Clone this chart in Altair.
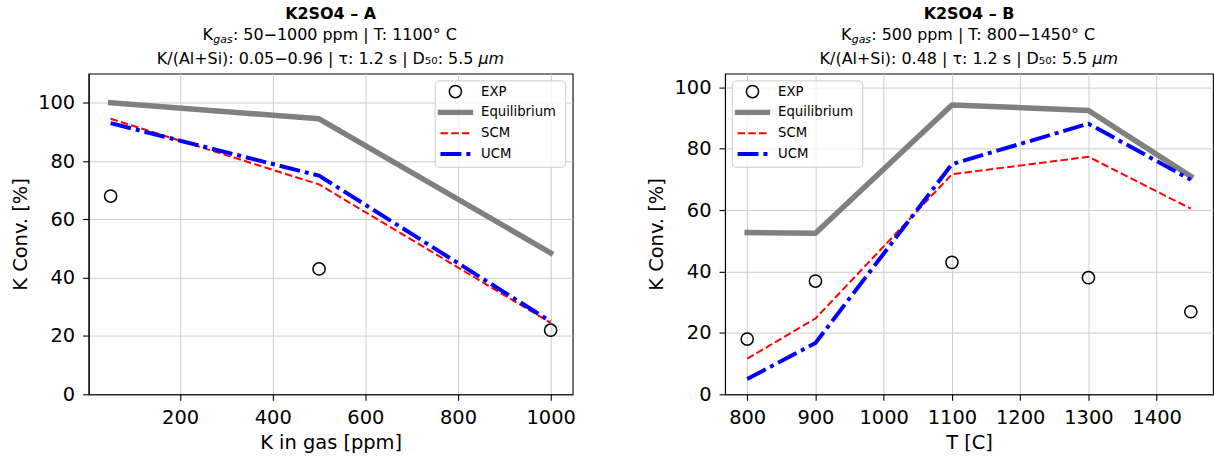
import altair as alt
import pandas as pd

FONT = "DejaVu Sans"

# ---------------- data ----------------
SERIES = ["EXP", "Equilibrium", "SCM", "UCM"]
Y_TICKS = [0, 20, 40, 60, 80, 100]

A_X = [50, 500, 1000]
A_EXP = [68, 43, 22]
A_EQ = [100, 94.5, 48.5]
A_SCM = [94.5, 72, 24.5]
A_UCM = [93, 75, 25]
A_XTICKS = [200, 400, 600, 800, 1000]

B_X = [800, 900, 1100, 1300, 1450]
B_EXP = [18, 36.9, 43, 38, 26.9]
B_EQ = [52.7, 52.5, 94.3, 92.5, 71]
B_SCM = [11.6, 24.7, 71.7, 77.4, 60.5]
B_UCM = [5, 16.7, 75, 88.2, 69.9]
B_XTICKS = [800, 900, 1000, 1100, 1200, 1300, 1400]

TITLE_A = "K2SO4 – A"
SUB2_A = ": 50−1000 ppm | T: 1100° C"
SUB3_A = "K/(Al+Si): 0.05−0.96 | τ: 1.2 s | D₅₀: 5.5"
TITLE_B = "K2SO4 – B"
SUB2_B = ": 500 ppm | T: 800−1450° C"
SUB3_B = "K/(Al+Si): 0.48 | τ: 1.2 s | D₅₀: 5.5"

# ---------------- styles ----------------
STYLE = {
    "EXP": dict(color="black", strokeWidth=1.5),
    "Equilibrium": dict(color="#808080", strokeWidth=5.5, strokeCap="square", strokeJoin="round"),
    "SCM": dict(color="#ff0000", strokeWidth=2, strokeDash=[7.5, 3.3], strokeJoin="round"),
    "UCM": dict(color="#0000ff", strokeWidth=4, strokeDash=[21, 5, 4, 5], strokeJoin="round"),
}

# approximate DejaVu Sans advance widths (em) for centring composite title lines
W_EM = {" ": .318, ":": .337, "−": .838, "p": .635, "m": .974, "|": .337, "T": .611, "°": .5,
        "C": .698, "K": .656, "/": .337, "(": .39, ")": .39, "A": .684, "l": .278, "+": .838,
        "S": .635, "i": .278, ".": .318, "τ": .57, "s": .521, "D": .77, "₅": .40, "₀": .40,
        "g": .635, "a": .613, "μ": .636}
for _d in "0123456789":
    W_EM[_d] = .636


def tw(s, size):
    return sum(W_EM.get(c, .6) for c in s) * size


def text_layer(s, x, y, align="left", size=16, weight="normal", style="normal",
               baseline="alphabetic"):
    return alt.Chart(pd.DataFrame({"t": [s]})).mark_text(
        align=align, baseline=baseline, font=FONT, fontSize=size, fontWeight=weight,
        fontStyle=style, color="black").encode(text="t:N", x=alt.value(x), y=alt.value(y))


def panel(xv, exp, eq, scm, ucm, xdom, ydom, xticks, xtitle, W, H,
          title, sub2, sub3, legend_x0):
    df = pd.DataFrame({"x": xv, "EXP": exp, "Equilibrium": eq, "SCM": scm, "UCM": ucm})
    xs = alt.Scale(domain=xdom, nice=False, zero=False)
    ys = alt.Scale(domain=ydom, nice=False, zero=False)
    xax = alt.Axis(values=xticks, title=xtitle, format="d", grid=True)
    yax = alt.Axis(values=Y_TICKS, title="K Conv. [%]", format="d", grid=True)
    X = alt.X("x:Q", scale=xs, axis=xax)
    base = alt.Chart(df)
    layers = [
        base.mark_point(shape="circle", filled=False, size=150, opacity=1,
                        **STYLE["EXP"]).encode(x=X, y=alt.Y("EXP:Q", scale=ys, axis=yax))
    ]
    for name in ["Equilibrium", "SCM", "UCM"]:
        layers.append(base.mark_line(**STYLE[name]).encode(
            x=X, y=alt.Y(f"{name}:Q", scale=ys, axis=yax)))

    # titles
    cx = W / 2
    layers.append(text_layer(title, cx, -54.4, align="center", weight="bold"))
    w2 = tw("K", 16) + tw("gas", 11) + 0.5 + tw(sub2, 16)
    s2 = cx - w2 / 2
    kx = s2 + tw("K", 16)
    layers.append(text_layer("K", kx, -33.4, align="right"))
    layers.append(text_layer("gas", kx + 0.3, -30.8, size=11, style="italic"))
    layers.append(text_layer(sub2, kx + 0.5 + tw("gas", 11), -33.4))
    w3 = tw(sub3, 16) + tw(" ", 16) + tw("μm", 16)
    s3 = cx - w3 / 2
    mx = s3 + tw(sub3, 16)
    layers.append(text_layer(sub3, mx, -9.4, align="right"))
    layers.append(text_layer("μm", mx + tw(" ", 16), -9.4, style="italic"))

    # legend
    x0, y0 = legend_x0, 7.3
    one = pd.DataFrame({"a": [0]})
    layers.append(alt.Chart(one).mark_rect(
        fill="white", fillOpacity=0.8, stroke="#cccccc", strokeWidth=1, cornerRadius=4
    ).encode(x=alt.value(x0), x2=alt.value(x0 + 131), y=alt.value(y0), y2=alt.value(y0 + 86.7)))
    for i, name in enumerate(SERIES):
        ry = y0 + 10.7 + i * 20.9
        if name == "EXP":
            layers.append(alt.Chart(one).mark_point(
                shape="circle", filled=False, size=150, opacity=1, **STYLE[name]
            ).encode(x=alt.value(x0 + 20.3), y=alt.value(ry)))
        else:
            st = {k: v for k, v in STYLE[name].items() if k != "strokeJoin"}
            layers.append(alt.Chart(one).mark_rule(**st).encode(
                x=alt.value(x0 + 5.3), x2=alt.value(x0 + 35.3), y=alt.value(ry)))
        layers.append(text_layer(name, x0 + 46, ry, size=13.3, baseline="middle"))

    return alt.layer(*layers).properties(width=W, height=H)


WA, WB, H = 486, 490, 322
left = panel(A_X, A_EXP, A_EQ, A_SCM, A_UCM, [2.5, 1047.5], [0, 110], A_XTICKS,
             "K in gas [ppm]", WA, H, TITLE_A, SUB2_A, SUB3_A, WA - 138)
right = panel(B_X, B_EXP, B_EQ, B_SCM, B_UCM, [767.5, 1482.5], [0, 104.5], B_XTICKS,
              "T [C]", WB, H, TITLE_B, SUB2_B, SUB3_B, 7.3)

chart = alt.hconcat(left, right, spacing=69).properties(
    padding={"left": 9, "top": 5, "right": 0, "bottom": 0}
).configure(font=FONT).configure_view(
    stroke="black", strokeWidth=1.1
).configure_axis(
    labelFont=FONT, titleFont=FONT, labelFontSize=19.5, titleFontSize=19.5,
    titleFontWeight="normal", labelColor="black", titleColor="black",
    domainColor="black", tickColor="black", tickSize=6, domainWidth=1.1, tickWidth=1.1,
    gridColor="#cccccc", gridWidth=1, labelFlush=False, labelOverlap=False
).configure_axisX(labelPadding=8, titlePadding=7).configure_axisY(labelPadding=8, titlePadding=7.6)

chart.save("out.html", embed_options={"renderer": "svg", "actions": False})
